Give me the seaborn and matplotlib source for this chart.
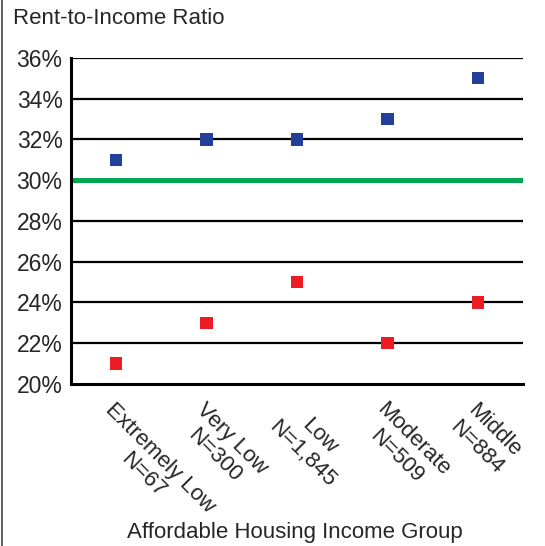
import pandas as pd
import matplotlib.pyplot as plt
import seaborn as sns
from matplotlib.lines import Line2D

# データ
groups = ["Extremely Low\nN=67", "Very Low\nN=300", "Low\nN=1,845", "Moderate\nN=509", "Middle\nN=884"]
blue_vals = [31, 32, 32, 33, 35]
red_vals = [21, 23, 25, 22, 24]
y_ticks = [20, 22, 24, 26, 28, 30, 32, 34, 36]
threshold = 30

sns.set_style("white")
plt.rcParams["font.family"] = ["Liberation Sans", "DejaVu Sans"]

df = pd.DataFrame({"group": groups, "blue": blue_vals, "red": red_vals})
df["pos"] = range(len(groups))

fig = plt.figure(figsize=(5.45, 5.46), dpi=100)
ax = fig.add_axes([0.130, 0.297, 0.830, 0.597])

# グリッド線
for y in y_ticks[1:]:
    ax.axhline(y, color="black", lw=1.6, zorder=1)
ax.axhline(threshold, color="#00a651", lw=3.6, zorder=2)

sns.scatterplot(data=df, x="pos", y="blue", marker="s", s=80, color="#22409a",
                edgecolor="none", ax=ax, zorder=3)
sns.scatterplot(data=df, x="pos", y="red", marker="s", s=80, color="#ed1c24",
                edgecolor="none", ax=ax, zorder=3)

ax.set_xlim(-0.5, len(groups) - 0.5)
ax.set_ylim(20, 36)
ax.set_yticks(y_ticks)
ax.set_yticklabels([f"{v}%" for v in y_ticks], fontsize=16.5)
ax.tick_params(axis="y", length=0, pad=6)

ax.set_xticks(df["pos"])
ax.set_xticklabels(groups, fontsize=16, rotation=-45, rotation_mode="anchor",
                   ha="left", va="top", multialignment="center")
ax.tick_params(axis="x", which="major", length=0, pad=11)
ax.set_xticks([i + 0.5 for i in range(len(groups))], minor=True)
ax.tick_params(axis="x", which="minor", length=7, width=2, color="black", direction="out", pad=0)

for side in ["top", "right"]:
    ax.spines[side].set_visible(False)
for side in ["left", "bottom"]:
    ax.spines[side].set_color("black")
    ax.spines[side].set_linewidth(2.2)

ax.set_xlabel("")
ax.set_ylabel("")

fig.text(0.024, 0.967, "Rent-to-Income Ratio", fontsize=16, ha="left", va="center")
fig.text(0.541, 0.024, "Affordable Housing Income Group", fontsize=16, ha="center", va="center")

# 左の枠線
fig.add_artist(Line2D([0.004, 0.004], [0, 1], transform=fig.transFigure, color="#444444", lw=1.2))

plt.savefig("out.png", dpi=100)
